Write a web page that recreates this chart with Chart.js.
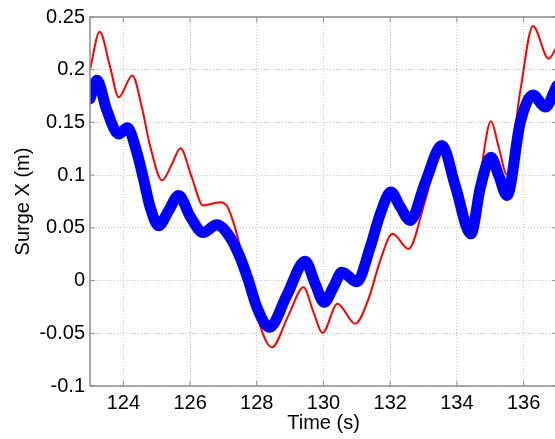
<!DOCTYPE html>
<html>
<head>
<meta charset="utf-8">
<script src="https://cdn.jsdelivr.net/npm/chart.js@4"></script>
<style>
  html, body { margin: 0; padding: 0; background: #fff; overflow: hidden; }
  #wrap { position: relative; width: 562px; height: 439px; }
</style>
</head>
<body>
<div id="wrap"><canvas id="surge"></canvas></div>
<script>
// Surge response, time in seconds and surge in metres
const blueTime  = [123.0, 123.21, 123.5, 123.86, 124.12, 124.4, 124.6, 124.8, 125.06, 125.35, 125.66, 126.0, 126.39, 126.8, 127.2, 127.5, 127.75, 128.0, 128.38, 128.9, 129.45, 129.75, 130.02, 130.3, 130.55, 131.0, 131.4, 131.7, 132.02, 132.3, 132.6, 133.05, 133.55, 133.95, 134.42, 134.7, 135.02, 135.25, 135.5, 135.9, 136.28, 136.65, 137.0];
const blueSurge = [0.1725, 0.190, 0.162, 0.139, 0.145, 0.122, 0.097, 0.070, 0.052, 0.066, 0.0807, 0.061, 0.0455, 0.053, 0.041, 0.022, 0.0, -0.025, -0.0443, -0.014, 0.0183, -0.003, -0.0206, -0.006, 0.0079, -0.0012, 0.0316, 0.063, 0.0839, 0.070, 0.057, 0.093, 0.128, 0.090, 0.0443, 0.088, 0.117, 0.100, 0.0807, 0.150, 0.176, 0.1646, 0.185];

const redTime  = [123.0, 123.29, 123.6, 123.86, 124.27, 124.55, 124.8, 125.16, 125.45, 125.71, 126.05, 126.39, 126.9, 127.1, 127.25, 127.4, 127.5, 127.9, 128.45, 128.95, 129.4, 129.7, 129.97, 130.42, 130.95, 131.35, 131.7, 132.07, 132.55, 133.05, 133.55, 133.95, 134.42, 134.7, 135.02, 135.25, 135.5, 135.9, 136.28, 136.75, 137.0];
const redSurge = [0.200, 0.236, 0.203, 0.174, 0.1946, 0.165, 0.128, 0.095, 0.110, 0.1256, 0.098, 0.0712, 0.0744, 0.0712, 0.060, 0.0443, 0.0316, -0.022, -0.0633, -0.033, -0.0063, -0.030, -0.0497, -0.022, -0.041, -0.0174, 0.019, 0.0443, 0.030, 0.076, 0.126, 0.088, 0.043, 0.0997, 0.151, 0.127, 0.1004, 0.180, 0.2415, 0.2105, 0.222];

const xTicks = [124, 126, 128, 130, 132, 134, 136];
const yTicks = [-0.1, -0.05, 0, 0.05, 0.1, 0.15, 0.2, 0.25];
const yTickLabels = ['-0.1', '-0.05', '0', '0.05', '0.1', '0.15', '0.2', '0.25'];

const toPoints = (ts, vs) => ts.map((t, i) => ({ x: t, y: vs[i] }));

const FONT = 'Liberation Sans, Arial, Helvetica, sans-serif';
const AXIS_GRAY = '#8c8c8c';

// Box around the axes with short inward tick marks
const axesFrame = {
  id: 'axesFrame',
  afterDraw(chart) {
    const { ctx, chartArea: a, scales: { x, y } } = chart;
    ctx.save();
    ctx.strokeStyle = AXIS_GRAY;
    ctx.lineWidth = 1.5;
    ctx.strokeRect(a.left, a.top, a.right - a.left, a.bottom - a.top);
    ctx.lineWidth = 1;
    ctx.beginPath();
    xTicks.forEach(v => {
      const px = x.getPixelForValue(v);
      ctx.moveTo(px, a.bottom); ctx.lineTo(px, a.bottom - 5);
      ctx.moveTo(px, a.top); ctx.lineTo(px, a.top + 5);
    });
    yTicks.forEach(v => {
      const py = y.getPixelForValue(v);
      ctx.moveTo(a.left, py); ctx.lineTo(a.left + 5, py);
      ctx.moveTo(a.right, py); ctx.lineTo(a.right - 5, py);
    });
    ctx.stroke();
    ctx.restore();
  }
};

new Chart(document.getElementById('surge'), {
  type: 'line',
  data: {
    datasets: [
      {
        data: toPoints(blueTime, blueSurge),
        borderColor: '#0000ff',
        borderWidth: 11,
        borderCapStyle: 'round',
        borderJoinStyle: 'round',
        pointRadius: 0,
        cubicInterpolationMode: 'monotone',
        fill: false
      },
      {
        data: toPoints(redTime, redSurge),
        borderColor: '#ff0000',
        borderWidth: 2,
        pointRadius: 0,
        cubicInterpolationMode: 'monotone',
        fill: false
      }
    ]
  },
  options: {
    responsive: true,
    maintainAspectRatio: false,
    animation: false,
    layout: { padding: { top: 16, right: 5, left: 0, bottom: 0 } },
    plugins: { legend: { display: false }, tooltip: { enabled: false } },
    scales: {
      x: {
        type: 'linear',
        min: 123,
        max: 137,
        afterBuildTicks: s => { s.ticks = xTicks.map(v => ({ value: v })); },
        afterFit: s => { s.height = 53; },
        ticks: {
          font: { family: FONT, size: 20 },
          color: '#000',
          padding: 5,
          maxRotation: 0,
          autoSkip: false,
          callback: v => String(v)
        },
        grid: { color: '#c4c4c4', lineWidth: 1, drawTicks: false },
        border: { display: false, dash: [1, 2] },
        title: {
          display: true,
          text: 'Time (s)',
          color: '#000',
          font: { family: FONT, size: 20 },
          padding: { top: 0, bottom: 4 }
        }
      },
      y: {
        type: 'linear',
        min: -0.1,
        max: 0.25,
        afterBuildTicks: s => { s.ticks = yTicks.map(v => ({ value: v })); },
        afterFit: s => { s.width = 90; },
        ticks: {
          font: { family: FONT, size: 20 },
          color: '#000',
          padding: 5,
          autoSkip: false,
          callback: (v, i) => yTickLabels[i]
        },
        grid: { color: '#c4c4c4', lineWidth: 1, drawTicks: false },
        border: { display: false, dash: [1, 2] },
        title: {
          display: true,
          text: 'Surge X (m)',
          color: '#000',
          font: { family: FONT, size: 20 },
          padding: { top: 11, bottom: 0 }
        }
      }
    }
  },
  plugins: [axesFrame]
});
</script>
</body>
</html>
